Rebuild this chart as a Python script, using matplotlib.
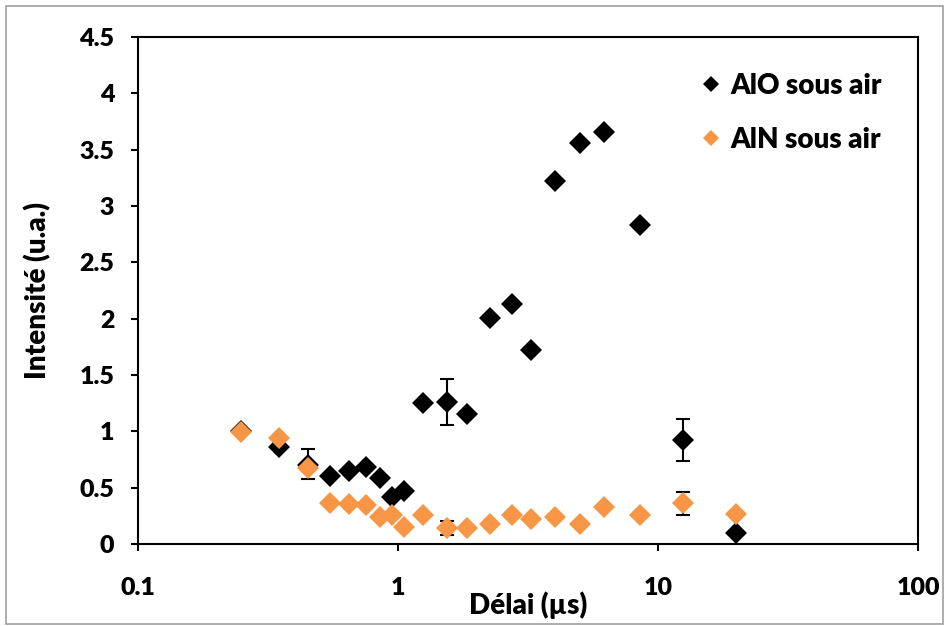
import matplotlib
matplotlib.use("Agg")
import matplotlib.pyplot as plt
from matplotlib.patches import Rectangle

plt.rcParams['font.family'] = ['Lato', 'DejaVu Sans']
plt.rcParams['font.weight'] = 'bold'

# Data
delay = [0.25, 0.35, 0.45, 0.55, 0.65, 0.75, 0.85, 0.95, 1.05, 1.25, 1.55,
         1.85, 2.25, 2.75, 3.25, 4.0, 5.0, 6.2, 8.5, 12.5, 20.0]
alo = [1.0, 0.86, 0.70, 0.60, 0.65, 0.68, 0.59, 0.42, 0.47, 1.25, 1.26,
       1.15, 2.01, 2.13, 1.72, 3.22, 3.56, 3.66, 2.83, 0.92, 0.10]
aln = [0.99, 0.94, 0.67, 0.36, 0.355, 0.35, 0.24, 0.26, 0.15, 0.26, 0.14,
       0.14, 0.18, 0.26, 0.22, 0.24, 0.18, 0.33, 0.26, 0.36, 0.27]

# error bars (x, value, lower, upper)
alo_err_x = [0.45, 1.55, 12.5]
alo_err_y = [0.70, 1.26, 0.92]
alo_err_lo = [0.12, 0.20, 0.18]
alo_err_hi = [0.14, 0.20, 0.19]
aln_err_x = [1.55, 12.5]
aln_err_y = [0.14, 0.36]
aln_err_lo = [0.06, 0.10]
aln_err_hi = [0.06, 0.10]

orange = '#F79646'

fig = plt.figure(figsize=(9.47, 6.26), dpi=100)
ax = fig.add_axes([0.1457, 0.131, 0.8237, 0.81])

ax.errorbar(alo_err_x, alo_err_y, yerr=[alo_err_lo, alo_err_hi], fmt='none',
            ecolor='black', elinewidth=1.5, capsize=5, capthick=1.5, zorder=2)
ax.errorbar(aln_err_x, aln_err_y, yerr=[aln_err_lo, aln_err_hi], fmt='none',
            ecolor='black', elinewidth=1.5, capsize=5, capthick=1.5, zorder=2)

ax.plot(delay, alo, linestyle='none', marker='D', markersize=11.5,
        color='black', markeredgewidth=0, label='AlO sous air', zorder=3)
ax.plot(delay, aln, linestyle='none', marker='D', markersize=11.5,
        color=orange, markeredgewidth=0, label='AlN sous air', zorder=4)

ax.set_xscale('log')
ax.set_xlim(0.1, 100)
ax.set_ylim(0, 4.5)
ax.set_xticks([0.1, 1, 10, 100])
ax.set_xticklabels(['0.1', '1', '10', '100'])
ax.minorticks_off()
ax.set_yticks([0, 0.5, 1, 1.5, 2, 2.5, 3, 3.5, 4, 4.5])
ax.set_yticklabels(['0', '0.5', '1', '1.5', '2', '2.5', '3', '3.5', '4', '4.5'])
ax.tick_params(axis='both', direction='out', length=5, width=1.5,
               labelsize=18)
ax.tick_params(axis='x', pad=19)
ax.tick_params(axis='y', pad=12)
for lab in ax.get_xticklabels() + ax.get_yticklabels():
    lab.set_fontweight('heavy')
for s in ax.spines.values():
    s.set_linewidth(1.5)

ax.set_xlabel('Délai (µs)', fontsize=20, fontweight='heavy', labelpad=-6)
ax.set_ylabel('Intensité (u.a.)', fontsize=20, fontweight='heavy', labelpad=20)

leg = ax.legend(loc='upper right', frameon=False,
                prop={'weight': 'heavy', 'size': 20}, handletextpad=0.2,
                labelspacing=1.0, borderaxespad=0.9, handlelength=1.0,
                markerscale=0.75)

fig.patches.append(Rectangle((0.006, 0.003), 0.99, 0.988, transform=fig.transFigure,
                             fill=False, edgecolor='#A0A0A0', linewidth=1.2))

fig.savefig('out.png', dpi=100)
